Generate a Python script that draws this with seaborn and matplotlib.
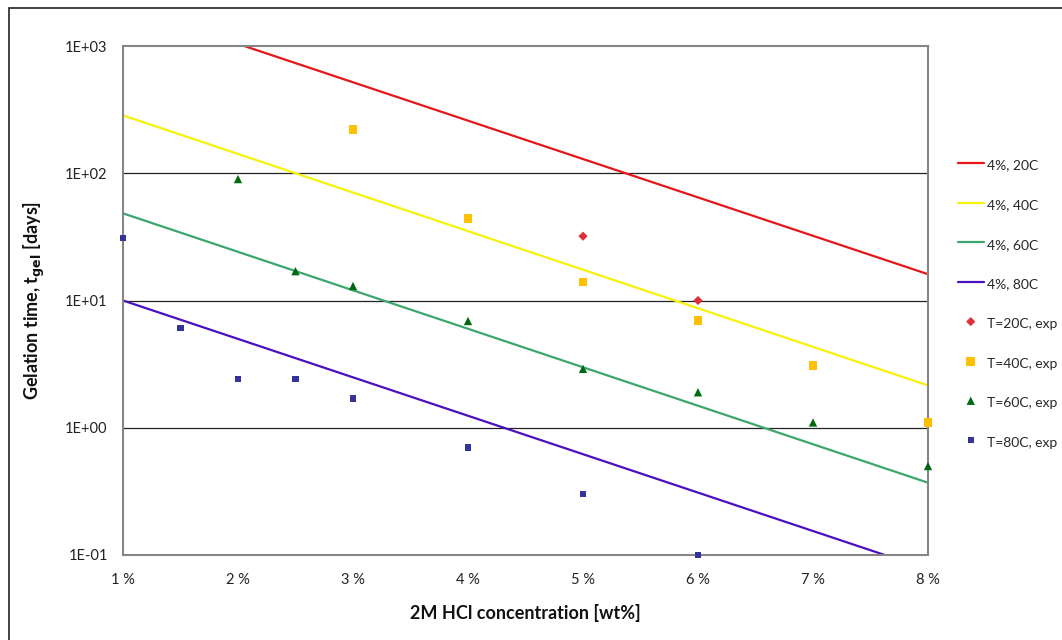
import matplotlib
matplotlib.use("Agg")
import matplotlib.pyplot as plt
from matplotlib.patches import Rectangle
from matplotlib.ticker import FixedLocator, FixedFormatter, NullLocator
import seaborn as sns
import pandas as pd

# ---- data ----
line_x = [1, 8]
line_20C = [2080, 16.1]
line_40C = [285, 2.15]
line_60C = [48.4, 0.37]
line_80C = [10.0, 0.077]

exp20_x = [5, 6]
exp20_y = [32, 10]
exp40_x = [3, 4, 5, 6, 7, 8]
exp40_y = [220, 44, 14, 7.0, 3.1, 1.1]
exp60_x = [2, 2.5, 3, 4, 5, 6, 7, 8]
exp60_y = [90, 17, 13, 6.9, 2.9, 1.9, 1.1, 0.5]
exp80_x = [1, 1.5, 2, 2.5, 3, 4, 5, 6]
exp80_y = [31, 6.1, 2.4, 2.4, 1.7, 0.7, 0.3, 0.1]

x_ticks = [1, 2, 3, 4, 5, 6, 7, 8]
x_ticklabels = ["1 %", "2 %", "3 %", "4 %", "5 %", "6 %", "7 %", "8 %"]
y_ticks = [0.1, 1, 10, 100, 1000]
y_ticklabels = ["1E-01", "1E+00", "1E+01", "1E+02", "1E+03"]

line_labels = ["4%, 20C", "4%, 40C", "4%, 60C", "4%, 80C"]
exp_labels = ["T=20C, exp", "T=40C, exp", "T=60C, exp", "T=80C, exp"]

sns.set_theme(style="white")
plt.rcParams['font.family'] = ['Lato', 'DejaVu Sans']

fig = plt.figure(figsize=(10.62, 6.4), dpi=100)
ax = fig.add_axes([123/1062, 1 - 555/640, (928-123)/1062, (555-46)/640])

line_colors = ["#E8161B", "#F7F20A", "#3CA66E", "#4A10BF"]
for ys, lab, col in zip([line_20C, line_40C, line_60C, line_80C], line_labels, line_colors):
    df = pd.DataFrame({"x": line_x, "y": ys})
    sns.lineplot(data=df, x="x", y="y", ax=ax, color=col, linewidth=1.6, label=lab)

exp_sets = [(exp20_x, exp20_y, "D", "#E0303A", 22),
            (exp40_x, exp40_y, "s", "#FFC000", 40),
            (exp60_x, exp60_y, "^", "#006A10", 36),
            (exp80_x, exp80_y, "s", "#333399", 20)]
for (xs, ys, mk, col, sz), lab in zip(exp_sets, exp_labels):
    df = pd.DataFrame({"x": xs, "y": ys})
    sns.scatterplot(data=df, x="x", y="y", ax=ax, marker=mk, color=col, s=sz,
                    edgecolor="none", label=lab, clip_on=False, zorder=5)

ax.set_yscale("log")
ax.set_xlim(1, 8)
ax.set_ylim(0.1, 1000)
ax.yaxis.set_major_locator(FixedLocator(y_ticks))
ax.yaxis.set_major_formatter(FixedFormatter(y_ticklabels))
ax.yaxis.set_minor_locator(NullLocator())
ax.xaxis.set_major_locator(FixedLocator(x_ticks))
ax.xaxis.set_major_formatter(FixedFormatter(x_ticklabels))

for yv in [1, 10, 100]:
    ax.axhline(yv, color="#222222", linewidth=0.9, zorder=1)

for sp in ax.spines.values():
    sp.set_visible(True)
    sp.set_color("#868686")
    sp.set_linewidth(1.5)

ax.tick_params(axis="both", which="major", direction="out", length=5, width=1.2,
               color="#868686", labelsize=10.5, labelcolor="#222222")
ax.tick_params(axis="x", pad=8)
ax.tick_params(axis="y", pad=6)

ax.set_xlabel("2M HCl concentration [wt%]", fontsize=13, fontweight="bold",
              labelpad=12, color="#111111")
ax.set_ylabel(r"Gelation time, t$_{\mathbf{gel}}$ [days]", fontsize=13,
              fontweight="bold", labelpad=13, color="#111111")

leg = ax.legend(loc="upper left", bbox_to_anchor=(952/1062, 1 - 151/640),
                bbox_transform=fig.transFigure, frameon=False, fontsize=10,
                labelspacing=1.63, handlelength=1.9, handleheight=1.5,
                handletextpad=0.25, borderaxespad=0, markerscale=1.0)

fig.patches.append(Rectangle((9/1062, -0.1), 1.2, 1.1 - 8/640, fill=False,
                             edgecolor="#222222", linewidth=1.2,
                             transform=fig.transFigure, figure=fig))

fig.savefig("out.png", dpi=100)
